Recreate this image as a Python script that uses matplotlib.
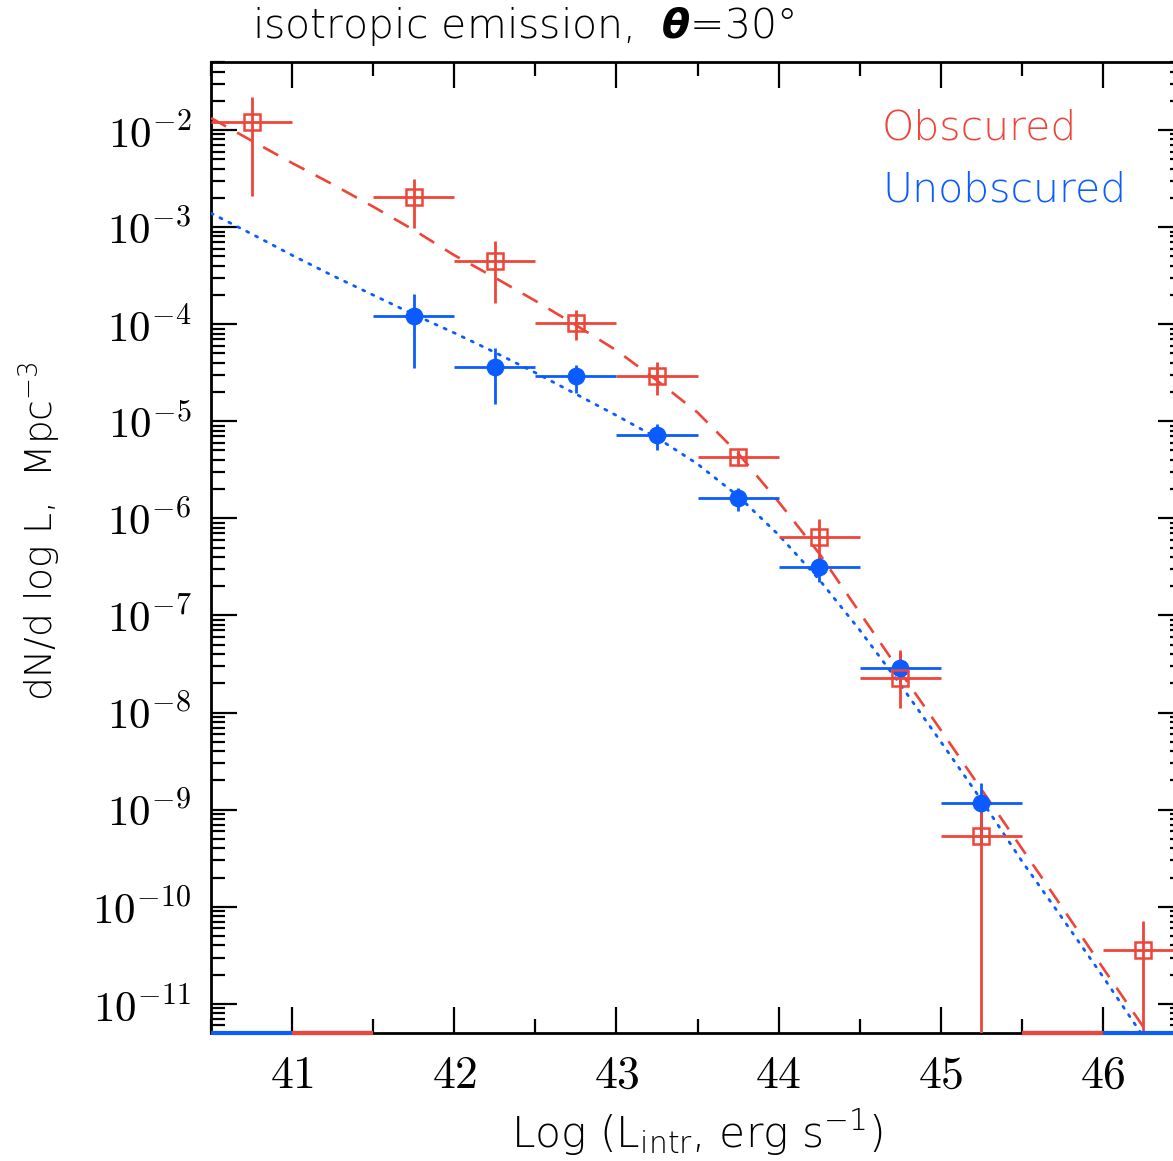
import numpy as np
import matplotlib
matplotlib.use("Agg")
import matplotlib.pyplot as plt
from matplotlib.ticker import FixedLocator, LogLocator, NullFormatter, FixedFormatter

SANS = "DejaVu Sans"
plt.rcParams["font.family"] = [SANS]
plt.rcParams["font.weight"] = "light"
plt.rcParams["mathtext.fontset"] = "custom"
plt.rcParams["mathtext.rm"] = SANS + ":light"
plt.rcParams["mathtext.it"] = SANS + ":italic"
plt.rcParams["mathtext.bf"] = SANS + ":bold:italic"

RED = "#EE4539"
BLUE = "#0A5CFF"

# Binned space densities (bin half-width 0.25 dex in log L)
bin_half = 0.25

obs_x = [40.75, 41.75, 42.25, 42.75, 43.25, 43.75, 44.25, 44.75, 45.25, 46.25]
obs_y = [1.2e-2, 2.06e-3, 4.5e-4, 1.04e-4, 2.96e-5, 4.26e-6, 6.46e-7, 2.28e-8, 5.4e-10, 3.6e-11]
obs_hi = [2.2e-2, 3.1e-3, 7.2e-4, 1.41e-4, 4.1e-5, 5.1e-6, 9.95e-7, 4.4e-8, 1.1e-9, 7.2e-11]
obs_lo = [2.1e-3, 9.8e-4, 1.67e-4, 6.9e-5, 1.88e-5, 3.45e-6, 2.97e-7, 1.12e-8, 0.0, 0.0]
obs_empty = [41.25, 45.75]

unobs_x = [41.75, 42.25, 42.75, 43.25, 43.75, 44.25, 44.75, 45.25]
unobs_y = [1.22e-4, 3.62e-5, 2.9e-5, 7.28e-6, 1.62e-6, 3.14e-7, 2.9e-8, 1.18e-9]
unobs_hi = [2.06e-4, 5.67e-5, 3.83e-5, 9.44e-6, 2.06e-6, 4.07e-7, 4.07e-8, 1.9e-9]
unobs_lo = [3.55e-5, 1.52e-5, 1.95e-5, 5.0e-6, 1.18e-6, 2.22e-7, 2.0e-8, 4.3e-10]
unobs_empty = [40.75, 41.25, 45.75, 46.25]

# Model luminosity functions, log10(dN/dlogL)
model_logL = [40.5, 40.75, 41.0, 41.25, 41.5, 41.75, 42.0, 42.25, 42.5, 42.75,
              43.0, 43.25, 43.5, 43.75, 44.0, 44.25, 44.5, 44.75, 45.0, 45.25,
              45.5, 45.75, 46.0, 46.25, 46.5]
model_obs = [-1.877, -2.11, -2.34, -2.56, -2.79, -3.03, -3.29, -3.52, -3.76, -4.01,
             -4.27, -4.58, -4.91, -5.33, -5.83, -6.36, -6.97, -7.58, -8.18, -8.79,
             -9.40, -10.01, -10.63, -11.24, -11.85]
model_unobs = [-2.857, -3.07, -3.29, -3.50, -3.70, -3.90, -4.09, -4.29, -4.50, -4.72,
               -4.94, -5.17, -5.44, -5.77, -6.17, -6.63, -7.15, -7.71, -8.30, -8.90,
               -9.53, -10.12, -10.72, -11.34, -11.95]

xlim = (40.5, 46.5)
ylim = (5e-12, 5e-2)

fig = plt.figure(figsize=(11.73, 11.61), dpi=100)
ax = fig.add_axes([0.1799, 0.1102, 0.8295, 0.8363])
ax.set_yscale("log")
ax.set_xlim(*xlim)
ax.set_ylim(*ylim)

ml = np.array(model_logL)
ax.plot(ml, 10 ** np.array(model_obs), color=RED, lw=1.9, dashes=(6.5, 4.8), zorder=3)
ax.plot(ml, 10 ** np.array(model_unobs), color=BLUE, lw=2.0, linestyle=(0, (0.8, 2.8)),
        dash_capstyle="round", zorder=3)


def draw_points(xs, ys, his, los, color, marker, filled):
    xs = np.array(xs)
    ys = np.array(ys)
    his = np.array(his)
    los = np.array(los)
    los = np.where(los > 0, los, ylim[0])
    ax.hlines(ys, xs - bin_half, xs + bin_half, color=color, lw=2.0, zorder=4)
    ax.vlines(xs, los, his, color=color, lw=2.0, zorder=4)
    ax.plot(xs, ys, linestyle="none", marker=marker, ms=11,
            mfc=color if filled else "none", mec=color, mew=1.8, zorder=5)


def draw_empty(xs, color):
    for x in xs:
        ax.plot([x - bin_half, x + bin_half], [ylim[0], ylim[0]], color=color,
                lw=3.0, solid_capstyle="butt", clip_on=False, zorder=6)


draw_points(unobs_x, unobs_y, unobs_hi, unobs_lo, BLUE, "o", True)
draw_empty(unobs_empty, BLUE)
draw_points(obs_x, obs_y, obs_hi, obs_lo, RED, "s", False)
draw_empty(obs_empty, RED)

# Axis ticks
ax.xaxis.set_major_locator(FixedLocator([41, 42, 43, 44, 45, 46]))
ax.xaxis.set_minor_locator(FixedLocator([40.5, 41.5, 42.5, 43.5, 44.5, 45.5]))
ax.xaxis.set_major_formatter(FixedFormatter(["$41$", "$42$", "$43$", "$44$", "$45$", "$46$"]))
ax.xaxis.set_minor_formatter(NullFormatter())

ydec = [1e-11, 1e-10, 1e-9, 1e-8, 1e-7, 1e-6, 1e-5, 1e-4, 1e-3, 1e-2]
ylabels = [r"$10^{-11}$", r"$10^{-10}$", r"$10^{-9}$", r"$10^{-8}$", r"$10^{-7}$",
           r"$10^{-6}$", r"$10^{-5}$", r"$10^{-4}$", r"$10^{-3}$", r"$10^{-2}$"]
ax.yaxis.set_major_locator(FixedLocator(ydec))
ax.yaxis.set_major_formatter(FixedFormatter(ylabels))
ax.yaxis.set_minor_locator(LogLocator(base=10, subs=np.arange(2, 10), numticks=30))
ax.yaxis.set_minor_formatter(NullFormatter())

ax.tick_params(which="both", direction="in", top=True, right=True, color="black")
ax.tick_params(which="major", length=19, width=1.6)
ax.tick_params(which="minor", length=10, width=1.6)
ax.tick_params(axis="x", which="major", pad=14, labelsize=33)
ax.tick_params(axis="y", which="major", pad=14, labelsize=31)
for lab in ax.get_xticklabels() + ax.get_yticklabels():
    lab.set_math_fontfamily("cm")

for s in ax.spines.values():
    s.set_linewidth(2.0)

# Labels
fig.text(697 / 1173, 1 - 1133 / 1161, r"Log (L$_{\rm intr}$, erg s$^{-1}$)",
         ha="center", va="center", fontsize=30.5)
fig.text(40 / 1173, 1 - 531 / 1161, r"dN/d log L,  Mpc$^{-3}$", rotation=90,
         ha="center", va="center", fontsize=27)
fig.text(252 / 1173, 1 - 27 / 1161, r"isotropic emission,  $\boldsymbol{\theta}$=30°",
         ha="left", va="center", fontsize=29.5)

fig.text(882 / 1173, 1 - 128 / 1161, "Obscured", color=RED, ha="left", va="center",
         fontsize=29.5)
fig.text(882 / 1173, 1 - 190 / 1161, "Unobscured", color=BLUE, ha="left", va="center",
         fontsize=29.5)

fig.savefig("out.png", dpi=100)
